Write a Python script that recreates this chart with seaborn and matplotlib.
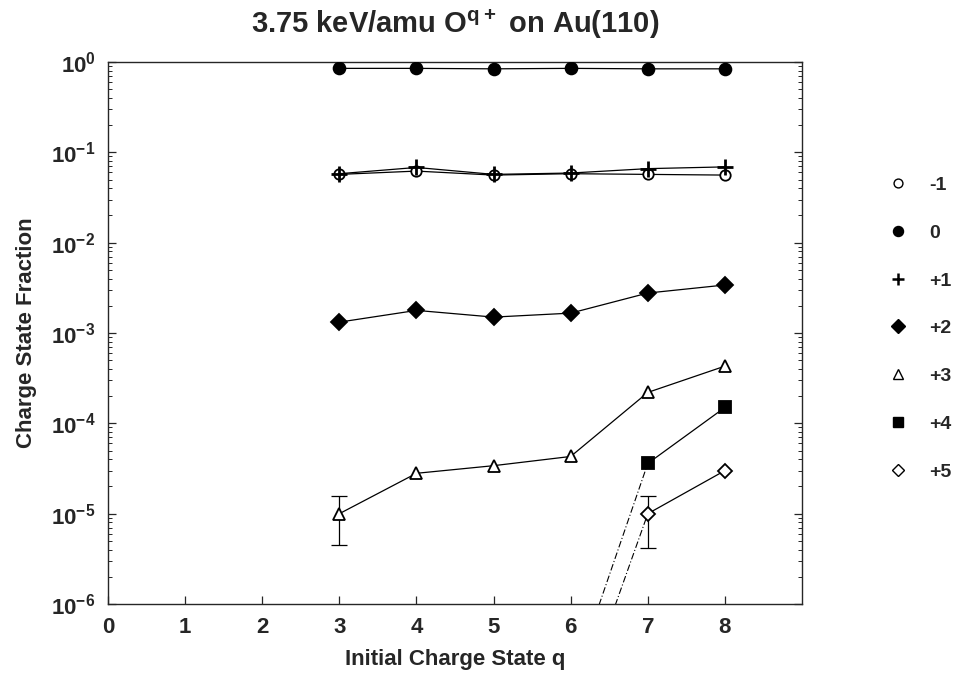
import numpy as np
import pandas as pd
import matplotlib
matplotlib.use("Agg")
import matplotlib.pyplot as plt
import matplotlib.ticker as mticker
from matplotlib.lines import Line2D
import seaborn as sns

# initial charge state q
q = [3, 4, 5, 6, 7, 8]

# charge state fractions
frac_m1 = [0.057, 0.062, 0.056, 0.058, 0.057, 0.056]
frac_0 = [0.85, 0.85, 0.84, 0.85, 0.84, 0.84]
frac_p1 = [0.058, 0.068, 0.057, 0.059, 0.066, 0.069]
frac_p2 = [1.32e-3, 1.78e-3, 1.50e-3, 1.66e-3, 2.77e-3, 3.40e-3]
frac_p3 = [1.0e-5, 2.8e-5, 3.4e-5, 4.3e-5, 2.2e-4, 4.3e-4]
q_p4 = [7, 8]
frac_p4 = [3.6e-5, 1.5e-4]
q_p5 = [7, 8]
frac_p5 = [1.0e-5, 3.0e-5]

# segments that run off the bottom of the axis (q=6 below 1e-6)
tail_q = [6, 7]
tail_p4 = [1.2e-7, 3.6e-5]
tail_p5 = [4.0e-8, 1.0e-5]

# error bars
err_q = [3, 7]
err_val = [1.0e-5, 1.0e-5]
err_lo = [4.5e-6, 4.2e-6]
err_hi = [1.55e-5, 1.55e-5]

series_labels = ["-1", "0", "+1", "+2", "+3", "+4", "+5"]
y_decades = [-6, -5, -4, -3, -2, -1, 0]

sns.set_style("ticks")
plt.rcParams["font.family"] = ["Liberation Sans", "DejaVu Sans"]
plt.rcParams["font.weight"] = "bold"
plt.rcParams["mathtext.fontset"] = "custom"
plt.rcParams["mathtext.rm"] = "Liberation Sans:bold"
plt.rcParams["mathtext.bf"] = "Liberation Sans:bold"
plt.rcParams["mathtext.default"] = "bf"

fig = plt.figure(figsize=(9.62, 6.85), dpi=100)
ax = fig.add_axes([0.1123, 0.1182, 0.7214, 0.7913])

styles = [
    (q, frac_m1, "o", "white", 7.5),
    (q, frac_0, "o", "black", 8.5),
    (q, frac_p1, "+", "black", 11),
    (q, frac_p2, "D", "black", 8),
    (q, frac_p3, "^", "white", 9),
    (q_p4, frac_p4, "s", "black", 9),
    (q_p5, frac_p5, "D", "white", 7),
]

for (xs, ys, mk, fc, ms), lab in zip(styles, series_labels):
    df = pd.DataFrame({"q": xs, "frac": ys})
    sns.lineplot(data=df, x="q", y="frac", ax=ax, color="black", lw=0.9,
                 marker=mk, markerfacecolor=fc, markeredgecolor="black",
                 markersize=ms, markeredgewidth=1.3 if mk != "+" else 2.0,
                 legend=False, zorder=3)

for ys in (tail_p4, tail_p5):
    df = pd.DataFrame({"q": tail_q, "frac": ys})
    sns.lineplot(data=df, x="q", y="frac", ax=ax, color="black", lw=0.8,
                 linestyle=(0, (6, 2, 1, 2)), legend=False, zorder=2)

err_lo_d = np.array(err_val) - np.array(err_lo)
err_hi_d = np.array(err_hi) - np.array(err_val)
ax.errorbar(err_q, err_val, yerr=[err_lo_d, err_hi_d], fmt="none",
            ecolor="black", elinewidth=0.9, capsize=6, capthick=0.9, zorder=1)

ax.set_yscale("log")
ax.set_ylim(1e-6, 1)
ax.set_xlim(0, 9)
ax.set_xticks(range(0, 9))
ax.set_xticklabels([str(i) for i in range(0, 9)])
ax.set_yticks([10.0 ** d for d in y_decades])
ax.set_yticklabels([r"$10^{%d}$" % d for d in y_decades])
ax.yaxis.set_minor_locator(mticker.FixedLocator(
    [m * 10.0 ** d for d in y_decades[:-1] for m in range(2, 10)]))
ax.yaxis.set_minor_formatter(mticker.NullFormatter())
ax.tick_params(axis="both", which="major", direction="in", length=6,
               width=0.9, labelsize=16, right=True, pad=9)
ax.tick_params(axis="y", which="minor", direction="in", length=3,
               width=0.7, right=True)
for s in ax.spines.values():
    s.set_linewidth(1.0)
    s.set_visible(True)

ax.set_xlabel("Initial Charge State q", fontsize=16, fontweight="bold", labelpad=8)
ax.set_ylabel("Charge State Fraction", fontsize=16, fontweight="bold", labelpad=10)
ax.set_title("3.75 keV/amu O$^{q+}$ on Au(110)", fontsize=21, fontweight="bold", pad=21)

handles = []
for (xs, ys, mk, fc, ms) in styles:
    handles.append(Line2D([], [], linestyle="none", marker=mk, markerfacecolor=fc,
                          markeredgecolor="black", markersize=ms * 0.85,
                          markeredgewidth=1.0 if mk != "+" else 1.8))
fig.legend(handles, series_labels, loc="upper left", bbox_to_anchor=(0.905, 0.768),
           frameon=False, handlelength=1.0, handletextpad=1.1, labelspacing=1.55,
           prop={"size": 14, "weight": "bold"})

fig.savefig("out.png", dpi=100)
